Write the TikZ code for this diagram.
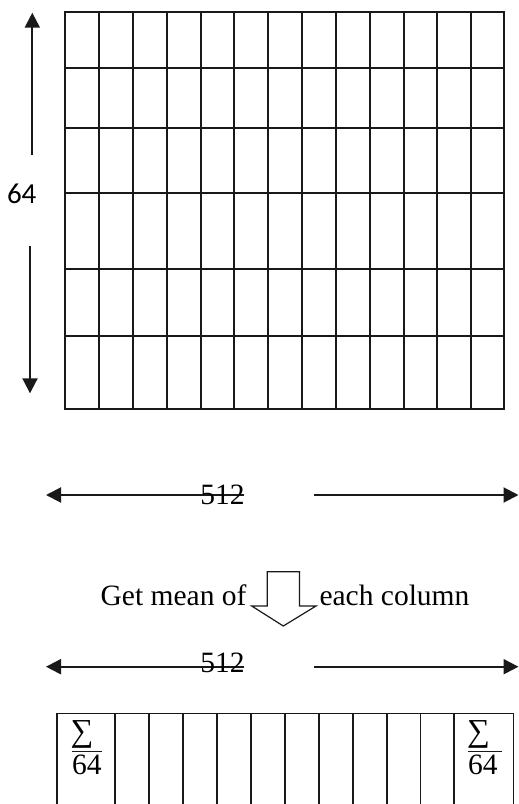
\documentclass[tikz,border=0pt]{standalone}
\usepackage{fontspec}
\setmainfont{Liberation Serif}
\newfontfamily\lblfont{Carlito}
\usetikzlibrary{arrows.meta}
\begin{document}
\begin{tikzpicture}[x=1pt,y=-1pt,
  gridline/.style={line width=2.3pt,draw=black!90},
  dimarrow/.style={line width=2pt,draw=black!90,-{Triangle[length=15pt,width=15pt]}},
  cellline/.style={line width=1.6pt,draw=black!90},
  serif/.style={inner sep=0pt,font=\fontsize{29.5}{34}\selectfont},
  sanslbl/.style={inner sep=0pt,font=\lblfont\fontsize{29}{34}\selectfont},
  hollow/.style={line width=1.2pt,draw=black!90,line join=miter},
  fracbar/.style={line width=1.2pt,draw=black!90}]
\useasboundingbox (0,0) rectangle (519,804);
% upper grid 13 x 6
\foreach \x in {99,133,167,201,234,268,302,336,370,404,437,471}
  \draw[gridline] (\x,12) -- (\x,408.7);
\foreach \y in {67.7,128.3,192.7,269.3,335.7}
  \draw[gridline] (65,\y) -- (504,\y);
\draw[gridline] (65,12) rectangle (504,408.7);
% 64 dimension
\node[sanslbl] (n64) at (21.7,194) {64};
\coordinate (upS) at (32.3,155);
\coordinate (upT) at (32.3,12.7);
\coordinate (dnS) at (30,245.7);
\coordinate (dnT) at (30,393.3);
\draw[dimarrow] (upS) -- (upT);
\draw[dimarrow] (dnS) -- (dnT);
% first 512 dimension
\coordinate (aL1) at (46,495);
\coordinate (aR1) at (244,495);
\coordinate (bL1) at (314.3,495);
\coordinate (bR1) at (518.5,495);
\draw[dimarrow] (aR1) -- (aL1);
\draw[dimarrow] (bL1) -- (bR1);
\node[serif] (t512a) at (222.5,495) {512};
% get mean text and hollow arrow
\node[serif,anchor=base east] (getmean) at (246.7,605) {Get mean of};
\node[serif,anchor=base west] (eachcol) at (319.3,605) {each column};
\draw[hollow] (267.3,571.7) -- (267.3,606) -- (251.7,606) -- (283.3,626)
  -- (316,606) -- (299.5,606) -- (299.5,571.7) -- cycle;
% second 512 dimension
\coordinate (aL2) at (46,666.7);
\coordinate (aR2) at (244,666.7);
\coordinate (bL2) at (314.3,666.7);
\coordinate (bR2) at (518.5,666.7);
\draw[dimarrow] (aR2) -- (aL2);
\draw[dimarrow] (bL2) -- (bR2);
\node[serif] (t512b) at (222.5,663) {512};
% bottom row of cells
\draw[cellline] (56.7,713.3) -- (513.3,713.3);
\foreach \x in {56.7,115,149,183,217,251,285,319,353,387,420.3,454,513.3}
  \draw[cellline] (\x,713.3) -- (\x,806);
% sigma fractions
\node[serif,anchor=south west,font=\fontsize{32}{36}\selectfont] (sigL) at (70.5,749) {∑};
\draw[fracbar] (72.3,751.7) -- (101.7,751.7);
\node[serif,anchor=base west] (d64L) at (72,774) {64};
\node[serif,anchor=south west,font=\fontsize{32}{36}\selectfont] (sigR) at (467,749) {∑};
\draw[fracbar] (468,751.7) -- (501.7,751.7);
\node[serif,anchor=base west] (d64R) at (468,774) {64};
\end{tikzpicture}
\end{document}
